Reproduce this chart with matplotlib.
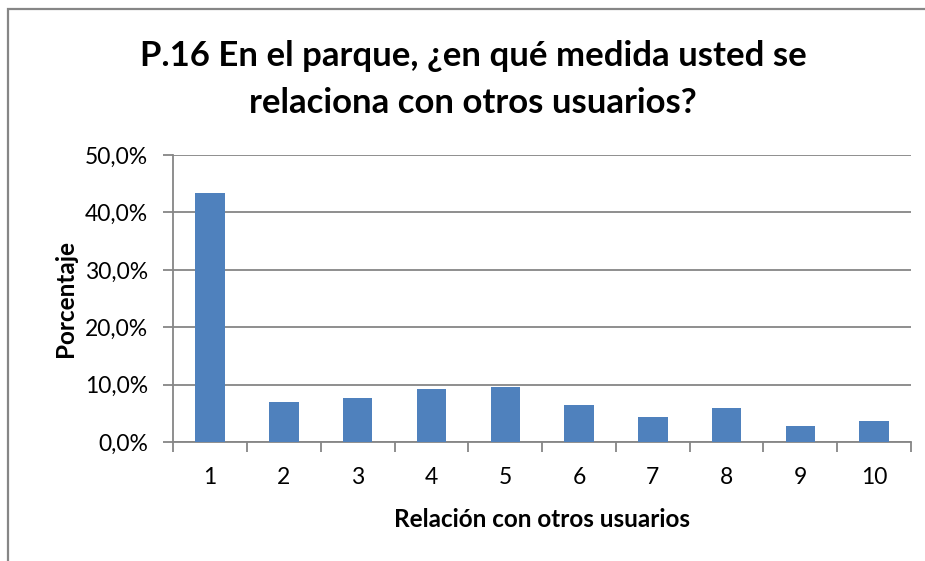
import matplotlib
matplotlib.use('Agg')
import matplotlib.pyplot as plt
import numpy as np
from matplotlib.ticker import FuncFormatter, FixedLocator
from matplotlib.patches import Rectangle

categories = ['1', '2', '3', '4', '5', '6', '7', '8', '9', '10']
valores = [43.3, 7.0, 7.7, 9.2, 9.7, 6.5, 4.4, 6.0, 2.75, 3.7]

titulo = ['P.16 En el parque, ¿en qué medida usted se', 'relaciona con otros usuarios?']
etiqueta_x = 'Relación con otros usuarios'
etiqueta_y = 'Porcentaje'

plt.rcParams['font.family'] = ['Lato', 'DejaVu Sans']

gris = '#868686'
azul = '#4F81BD'

fig = plt.figure(figsize=(9.25, 5.61), dpi=100)

# chart border (only top and left visible in the reference)
fig.patches.append(Rectangle((7.5/925, -0.1), 1.2, 1.1 - 9.5/561,
                             transform=fig.transFigure, fill=False,
                             edgecolor=gris, linewidth=1.6))

ax = fig.add_axes([173.3/925, 1 - 442.3/561, (911 - 173.3)/925, (442.3 - 155)/561])

x = np.arange(len(categories))
ax.bar(x, valores, width=0.4, color=azul, zorder=3)

ax.set_xlim(-0.5, len(categories) - 0.5)
ax.set_ylim(0, 50)
ax.yaxis.set_major_locator(FixedLocator([0, 10, 20, 30, 40, 50]))
ax.yaxis.set_major_formatter(FuncFormatter(lambda v, p: '{:.1f}%'.format(v).replace('.', ',')))
ax.yaxis.grid(True, color=gris, linewidth=1.3, zorder=0)

ax.set_xticks(x)
ax.set_xticklabels(categories)
ax.set_xticks(np.arange(len(categories) + 1) - 0.5, minor=True)
ax.tick_params(axis='x', which='major', length=0, pad=18, labelsize=16.5)
ax.tick_params(axis='x', which='minor', length=7, width=1.3, color=gris)
ax.tick_params(axis='y', length=7, width=1.3, color=gris, labelsize=16.5, pad=11)

for s in ['top', 'right']:
	ax.spines[s].set_visible(False)
ax.spines['left'].set_color(gris)
ax.spines['left'].set_linewidth(1.3)
ax.spines['bottom'].set_color(gris)
ax.spines['bottom'].set_linewidth(1.3)

ax.set_xlabel(etiqueta_x, fontsize=17.5, fontweight='bold', labelpad=14)
ax.set_ylabel(etiqueta_y, fontsize=17.5, fontweight='bold', labelpad=6)

# two-line title, each line placed on its own baseline
for linea, base in zip(titulo, [66, 113]):
	fig.text(473/925, 1 - base/561, linea, ha='center', va='baseline',
	         fontsize=25, fontweight='bold')

fig.savefig('out.png', dpi=100)
